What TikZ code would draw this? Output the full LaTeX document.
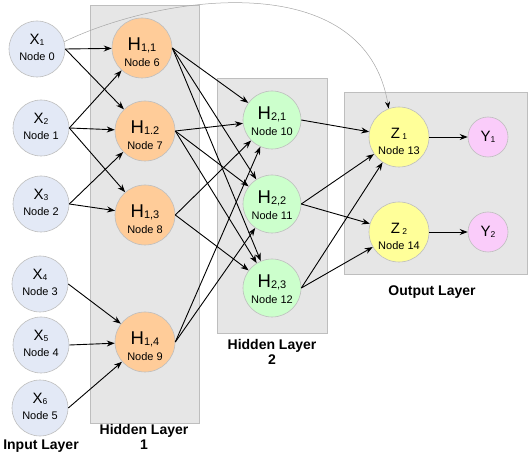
\documentclass[tikz,border=0pt]{standalone}
\usepackage{fontspec}
\setmainfont{Liberation Sans}
\usetikzlibrary{arrows.meta}
\definecolor{xfill}{RGB}{227,233,246}
\definecolor{hafill}{RGB}{255,204,153}
\definecolor{hbfill}{RGB}{204,255,204}
\definecolor{zfill}{RGB}{255,255,153}
\definecolor{yfill}{RGB}{250,204,250}
\definecolor{bordergray}{RGB}{190,190,190}
\definecolor{boxfill}{RGB}{230,230,230}
\newcommand{\lsub}[2][8.5]{\raisebox{-1.5pt}{\fontsize{#1}{#1}\selectfont #2}}
\newcommand{\nlab}[3]{\raisebox{#3}[\height][\depth]{\begin{tabular}{@{}c@{}}#1\\[3pt]\fontsize{11}{12}\selectfont #2\end{tabular}}}
\newcommand{\bigX}[1]{\fontsize{15}{15}\selectfont #1}
\newcommand{\bigH}[1]{\fontsize{18.5}{18.5}\selectfont #1}
\tikzset{
  conn/.style={draw=black, line width=0.9pt, -{Stealth[length=8pt,width=6pt]}},
  farconn/.style={draw=black!35, line width=0.5pt, -{Stealth[length=7pt,width=5pt,color=black]}},
  neuron/.style={circle, draw=bordergray, line width=0.6pt, inner sep=0pt, font=\fontsize{11}{13}\selectfont},
  xnode/.style={neuron, fill=xfill, minimum size=56pt},
  hanode/.style={neuron, fill=hafill, minimum size=60pt},
  hbnode/.style={neuron, fill=hbfill, minimum size=58pt},
  znode/.style={neuron, fill=zfill, minimum size=60pt},
  ynode/.style={neuron, fill=yfill, minimum size=40pt},
  layerbox/.style={draw=bordergray, fill=boxfill, line width=0.8pt},
  layerlabel/.style={font=\bfseries\fontsize{14}{15}\selectfont, align=center}
}
\begin{document}
\begin{tikzpicture}[x=1pt,y=-1pt]
\useasboundingbox (0,0) rectangle (528,465);
% layer boxes
\path[layerbox] (90,5) rectangle (199,423);
\path[layerbox] (217,78) rectangle (327,333);
\path[layerbox] (344,92) rectangle (527,274);
% input nodes
\node[xnode] (X1) at (37,49)  {\nlab{\bigX{X\lsub{1}}}{Node 0}{0pt}};
\node[xnode] (X2) at (41,128) {\nlab{\bigX{X\lsub{2}}}{Node 1}{0pt}};
\node[xnode] (X3) at (41,204) {\nlab{\bigX{X\lsub{3}}}{Node 2}{0pt}};
\node[xnode] (X4) at (40,284) {\nlab{\bigX{X\lsub{4}}}{Node 3}{0pt}};
\node[xnode] (X5) at (41,345) {\nlab{\bigX{X\lsub{5}}}{Node 4}{0pt}};
\node[xnode] (X6) at (40,408) {\nlab{\bigX{X\lsub{6}}}{Node 5}{0pt}};
% hidden layer 1
\node[hanode] (H11) at (142,48)  {\nlab{\bigH{H\lsub[11]{1,1}}}{Node 6}{-6pt}};
\node[hanode] (H12) at (145,131) {\nlab{\bigH{H\lsub[11]{1.2}}}{Node 7}{-6pt}};
\node[hanode] (H13) at (145,215) {\nlab{\bigH{H\lsub[11]{1,3}}}{Node 8}{-6pt}};
\node[hanode] (H14) at (145,342) {\nlab{\bigH{H\lsub[11]{1,4}}}{Node 9}{-6pt}};
% hidden layer 2
\node[hbnode] (H21) at (272,120) {\nlab{\bigH{H\lsub[11]{2,1}}}{Node 10}{-3pt}};
\node[hbnode] (H22) at (272,204) {\nlab{\bigH{H\lsub[11]{2,2}}}{Node 11}{-3pt}};
\node[hbnode] (H23) at (272,288) {\nlab{\bigH{H\lsub[11]{2,3}}}{Node 12}{-3pt}};
% output layer
\node[znode] (Z1) at (399,137) {\nlab{\bigX{Z\,\lsub{1}}}{Node 13}{-6pt}};
\node[znode] (Z2) at (399,232) {\nlab{\bigX{Z\,\lsub{2}}}{Node 14}{-6pt}};
\node[ynode] (Y1) at (488,137) {\bigX{Y\lsub{1}}};
\node[ynode] (Y2) at (488,232) {\bigX{Y\lsub{2}}};
% layer labels
\node[layerlabel] (LIn)  at (41,446)  {Input Layer};
\node[layerlabel] (LH1)  at (144,437) {Hidden Layer\\1};
\node[layerlabel] (LH2)  at (272,352) {Hidden Layer\\2};
\node[layerlabel] (LOut) at (432,292) {Output Layer};
% connections input -> hidden 1
\draw[conn] (X1.east) -- (H11);
\draw[conn] (X1.east) -- (H12);
\draw[conn] (X2.east) -- (H11);
\draw[conn] (X2.east) -- (H12);
\draw[conn] (X2.east) -- (H13);
\draw[conn] (X3.east) -- (H12);
\draw[conn] (X3.east) -- (H13);
\draw[conn] (X4.east) -- (H14);
\draw[conn] (X5.east) -- (H14);
\draw[conn] (X6.east) -- (H14);
% hidden 1 -> hidden 2
\draw[conn] (H11.east) -- (H21);
\draw[conn] (H11.east) -- (H22);
\draw[conn] (H11.east) -- (H23);
\draw[conn] (H12.east) -- (H21);
\draw[conn] (H12.east) -- (H22);
\draw[conn] (H12.east) -- (H23);
\draw[conn] (H13.east) -- (H21);
\draw[conn] (H13.east) -- (H23);
\draw[conn] (H14.east) -- (H21);
\draw[conn] (H14.east) -- (H22);
% hidden 2 -> output
\draw[conn] (H21.east) -- (Z1);
\draw[conn] (H22.east) -- (Z1);
\draw[conn] (H22.east) -- (Z2);
\draw[conn] (H23.east) -- (Z1);
\draw[conn] (H23.east) -- (Z2);
\draw[conn] (Z1.east) -- (Y1);
\draw[conn] (Z2.east) -- (Y2);
% long connection
\draw[farconn] (X1.15) .. controls (160,-5) and (365,-35) .. (Z1.110);
\end{tikzpicture}
\end{document}
